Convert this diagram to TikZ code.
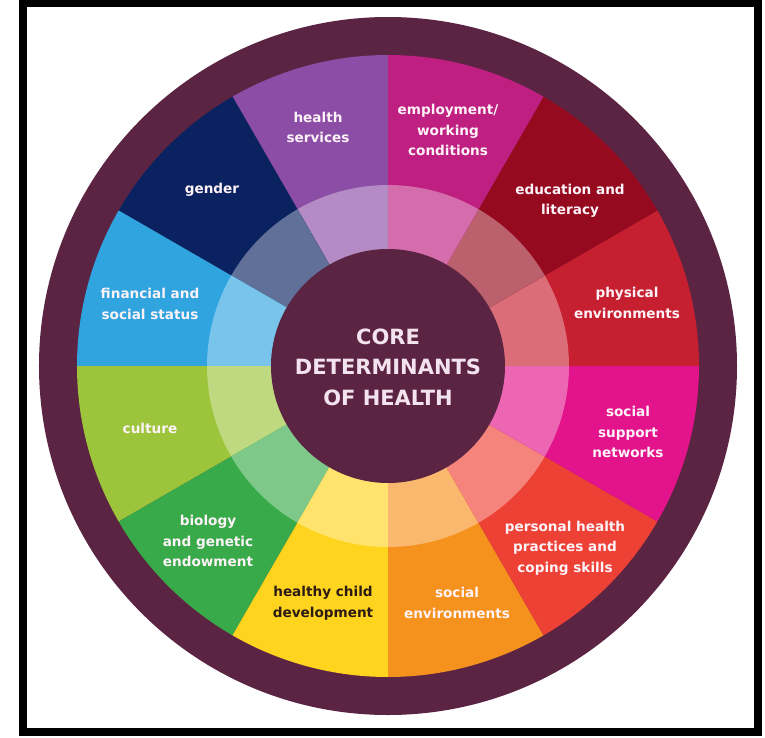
\documentclass[tikz,border=0pt]{standalone}
\usepackage{fontspec}
\setmainfont{DejaVu Sans}
\definecolor{ringpurple}{HTML}{5C2443}
\definecolor{cphys}{HTML}{C61F30}
\definecolor{cedu}{HTML}{960A1F}
\definecolor{cemp}{HTML}{BF1F80}
\definecolor{chs}{HTML}{8B4DA5}
\definecolor{cgen}{HTML}{0A2360}
\definecolor{cfin}{HTML}{2FA4DF}
\definecolor{ccul}{HTML}{9DC53B}
\definecolor{cbio}{HTML}{39AA4A}
\definecolor{cchild}{HTML}{FFD41F}
\definecolor{cenv}{HTML}{F5921E}
\definecolor{cpers}{HTML}{EE4135}
\definecolor{csup}{HTML}{E3148B}
\definecolor{labelwhite}{HTML}{FDF3F8}
\definecolor{centertext}{HTML}{F3E3EE}
\definecolor{darktext}{HTML}{2B1B14}
\begin{document}
\begin{tikzpicture}[x=1pt,y=1pt,
  lbl/.style={text=labelwhite, font=\bfseries\fontsize{13.6}{20.5}\selectfont, align=center, inner sep=0pt},
  corelbl/.style={text=centertext, font=\bfseries\fontsize{21}{30.5}\selectfont, align=center, inner sep=0pt}
]
\useasboundingbox (-388,366) rectangle (377,-371);
\fill[white] (-388,366) rectangle (377,-371);
\draw[line width=8pt] (-365,362.5) rectangle (370,-366);
\fill[ringpurple] (0,0) circle (349);
\foreach \a/\c in {0/cphys,30/cedu,60/cemp,90/chs,120/cgen,150/cfin,180/ccul,210/cbio,240/cchild,270/cenv,300/cpers,330/csup} {
  \fill[\c] (0,0) -- (\a:311) arc[start angle=\a, delta angle=30, radius=311] -- cycle;
  \fill[\c!65!white] (0,0) -- (\a:181) arc[start angle=\a, delta angle=30, radius=181] -- cycle;
}
\fill[ringpurple] (0,0) circle (117);
\node[corelbl] (core) at (0,-1) {CORE\\DETERMINANTS\\OF HEALTH};
\node[lbl] (hs) at (-70,238.5) {health\\services};
\node[lbl] (emp) at (60,236) {employment/\\working\\conditions};
\node[lbl] (gen) at (-176,176) {gender};
\node[lbl] (edu) at (182,165) {education and\\literacy};
\node[lbl] (phys) at (239,63) {physical\\environments};
\node[lbl] (fin) at (-238,62) {financial and\\social status};
\node[lbl] (cul) at (-238,-62) {culture};
\node[lbl] (bio) at (-180,-175) {biology\\and genetic\\endowment};
\node[lbl] (sup) at (240,-66) {social\\support\\networks};
\node[lbl] (pers) at (177,-182) {personal health\\practices and\\coping skills};
\node[lbl, text=darktext] (child) at (-65,-237) {healthy child\\development};
\node[lbl] (env) at (69,-237) {social\\environments};
\end{tikzpicture}
\end{document}
